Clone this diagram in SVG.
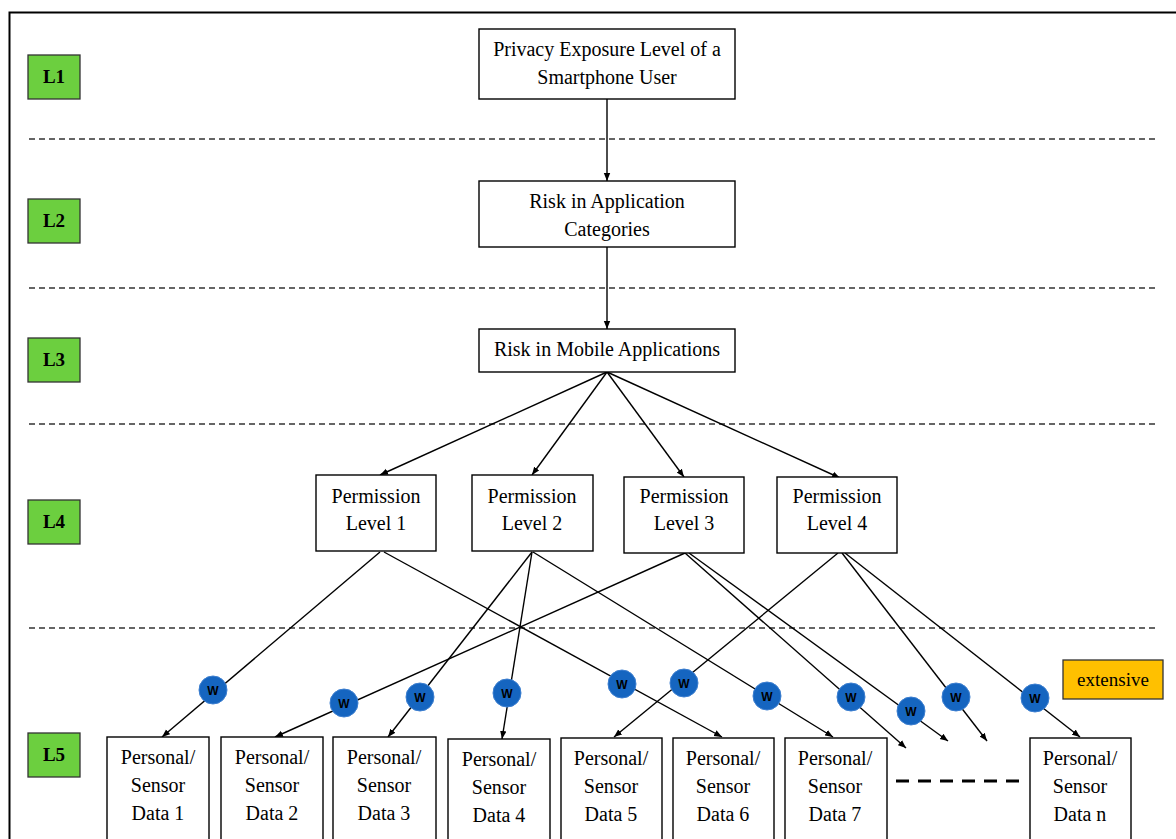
<svg xmlns="http://www.w3.org/2000/svg" width="1176" height="839" viewBox="0 0 1176 839">
<defs>
<marker id="ah" viewBox="0 0 10 10" refX="10" refY="5" markerWidth="8" markerHeight="8" markerUnits="userSpaceOnUse" orient="auto">
<path d="M0,1 L10,5 L0,9 Z" fill="#000"/>
</marker>
</defs>
<style>
.box{fill:#fff;stroke:#000;stroke-width:1.4}
.lvl{fill:#6CCF3F;stroke:#333;stroke-width:1.3}
.lt{font-family:'Liberation Serif','Times New Roman','DejaVu Serif',serif;font-weight:bold;font-size:19px;text-anchor:middle;fill:#000}
.t{font-family:'Liberation Serif','Times New Roman','DejaVu Serif',serif;font-size:20px;text-anchor:middle;fill:#000}
.dash{stroke:#333;stroke-width:1.3;stroke-dasharray:6,4;fill:none}
.a{stroke:#000;stroke-width:1.4;fill:none;marker-end:url(#ah)}
.w{fill:#1565C0;stroke:#3D7FD0;stroke-width:1}
.wt{font-family:'Liberation Sans',Arial,sans-serif;font-weight:bold;font-size:12px;text-anchor:middle;fill:#000}
</style>
<rect x="0" y="0" width="1176" height="839" fill="#fff"/>
<rect x="9.5" y="12.5" width="1200" height="900" fill="none" stroke="#000" stroke-width="2"/>
<g id="separators">
<line class="dash" x1="29" y1="139" x2="1158" y2="139"/>
<line class="dash" x1="29" y1="288" x2="1158" y2="288"/>
<line class="dash" x1="29" y1="424" x2="1158" y2="424"/>
<line class="dash" x1="29" y1="628" x2="1158" y2="628"/>
</g>
<g id="levels">
<g id="L1"><rect class="lvl" x="28" y="55" width="52" height="44"/><text class="lt" x="54" y="83">L1</text></g>
<g id="L2"><rect class="lvl" x="28" y="199" width="52" height="44"/><text class="lt" x="54" y="227">L2</text></g>
<g id="L3"><rect class="lvl" x="28" y="338" width="52" height="44"/><text class="lt" x="54" y="366">L3</text></g>
<g id="L4"><rect class="lvl" x="28" y="500" width="52" height="44"/><text class="lt" x="54" y="528">L4</text></g>
<g id="L5"><rect class="lvl" x="28" y="733" width="52" height="44"/><text class="lt" x="54" y="761">L5</text></g>
</g>
<g id="connectors">
<line class="a" x1="607" y1="99" x2="607" y2="181"/>
<line class="a" x1="607" y1="247" x2="607" y2="329"/>
<line class="a" x1="607" y1="372" x2="380" y2="475"/>
<line class="a" x1="607" y1="372" x2="532" y2="475"/>
<line class="a" x1="607" y1="372" x2="684" y2="477"/>
<line class="a" x1="607" y1="372" x2="840" y2="478"/>
<line class="a" x1="380" y1="552" x2="162" y2="737"/>
<line class="a" x1="384" y1="552" x2="722" y2="737"/>
<line class="a" x1="532" y1="552" x2="388" y2="737"/>
<line class="a" x1="532" y1="552" x2="502" y2="739"/>
<line class="a" x1="533" y1="552" x2="833" y2="737"/>
<line class="a" x1="685" y1="553" x2="275" y2="737"/>
<line class="a" x1="685" y1="553" x2="906" y2="748"/>
<line class="a" x1="689" y1="553" x2="948" y2="741"/>
<line class="a" x1="838" y1="553" x2="614" y2="737"/>
<line class="a" x1="842" y1="553" x2="987" y2="741"/>
<line class="a" x1="845" y1="553" x2="1080" y2="737"/>
<line x1="896" y1="781" x2="1022" y2="781" stroke="#000" stroke-width="3" stroke-dasharray="13,9"/>
</g>
<g id="weights">
<g><circle class="w" cx="213" cy="690" r="14"/><text class="wt" x="213" y="695">W</text></g>
<g><circle class="w" cx="344" cy="703" r="14"/><text class="wt" x="344" y="708">W</text></g>
<g><circle class="w" cx="420" cy="697" r="14"/><text class="wt" x="420" y="702">W</text></g>
<g><circle class="w" cx="507" cy="693" r="14"/><text class="wt" x="507" y="698">W</text></g>
<g><circle class="w" cx="622" cy="684" r="14"/><text class="wt" x="622" y="689">W</text></g>
<g><circle class="w" cx="684" cy="683" r="14"/><text class="wt" x="684" y="688">W</text></g>
<g><circle class="w" cx="767" cy="696" r="14"/><text class="wt" x="767" y="701">W</text></g>
<g><circle class="w" cx="851" cy="697" r="14"/><text class="wt" x="851" y="702">W</text></g>
<g><circle class="w" cx="911" cy="711" r="14"/><text class="wt" x="911" y="716">W</text></g>
<g><circle class="w" cx="956" cy="697" r="14"/><text class="wt" x="956" y="702">W</text></g>
<g><circle class="w" cx="1035" cy="698" r="14"/><text class="wt" x="1035" y="703">W</text></g>
</g>
<g id="n-privacy"><rect class="box" x="479" y="29" width="256" height="70"/><text class="t" x="607" y="56">Privacy Exposure Level of a</text><text class="t" x="607" y="84">Smartphone User</text></g>
<g id="n-category"><rect class="box" x="479" y="181" width="256" height="66"/><text class="t" x="607" y="208">Risk in Application</text><text class="t" x="607" y="236">Categories</text></g>
<g id="n-mobile"><rect class="box" x="479" y="329" width="256" height="43"/><text class="t" x="607" y="356">Risk in Mobile Applications</text></g>
<g id="n-pl1"><rect class="box" x="316" y="475" width="120" height="76"/><text class="t" x="376" y="503">Permission</text><text class="t" x="376" y="530">Level 1</text></g>
<g id="n-pl2"><rect class="box" x="472" y="475" width="121" height="76"/><text class="t" x="532" y="503">Permission</text><text class="t" x="532" y="530">Level 2</text></g>
<g id="n-pl3"><rect class="box" x="624" y="477" width="120" height="76"/><text class="t" x="684" y="503">Permission</text><text class="t" x="684" y="530">Level 3</text></g>
<g id="n-pl4"><rect class="box" x="777" y="477" width="120" height="76"/><text class="t" x="837" y="503">Permission</text><text class="t" x="837" y="530">Level 4</text></g>
<g id="n-d1"><rect class="box" x="107" y="737" width="102" height="110"/><text class="t" x="158" y="764">Personal/</text><text class="t" x="158" y="792">Sensor</text><text class="t" x="158" y="820">Data 1</text></g>
<g id="n-d2"><rect class="box" x="221" y="737" width="102" height="110"/><text class="t" x="272" y="764">Personal/</text><text class="t" x="272" y="792">Sensor</text><text class="t" x="272" y="820">Data 2</text></g>
<g id="n-d3"><rect class="box" x="333" y="737" width="103" height="110"/><text class="t" x="384" y="764">Personal/</text><text class="t" x="384" y="792">Sensor</text><text class="t" x="384" y="820">Data 3</text></g>
<g id="n-d4"><rect class="box" x="448" y="739" width="102" height="110"/><text class="t" x="499" y="766">Personal/</text><text class="t" x="499" y="794">Sensor</text><text class="t" x="499" y="822">Data 4</text></g>
<g id="n-d5"><rect class="box" x="561" y="738" width="101" height="110"/><text class="t" x="611" y="765">Personal/</text><text class="t" x="611" y="793">Sensor</text><text class="t" x="611" y="821">Data 5</text></g>
<g id="n-d6"><rect class="box" x="673" y="738" width="101" height="110"/><text class="t" x="723" y="765">Personal/</text><text class="t" x="723" y="793">Sensor</text><text class="t" x="723" y="821">Data 6</text></g>
<g id="n-d7"><rect class="box" x="785" y="738" width="102" height="110"/><text class="t" x="835" y="765">Personal/</text><text class="t" x="835" y="793">Sensor</text><text class="t" x="835" y="821">Data 7</text></g>
<g id="n-dn"><rect class="box" x="1030" y="738" width="101" height="110"/><text class="t" x="1080" y="765">Personal/</text><text class="t" x="1080" y="793">Sensor</text><text class="t" x="1080" y="821">Data n</text></g>
<g id="n-extensive"><rect x="1063" y="660" width="100" height="39" fill="#FFC000" stroke="#333" stroke-width="1.3"/><text class="t" x="1113" y="686" style="font-size:19px">extensive</text></g>
</svg>
